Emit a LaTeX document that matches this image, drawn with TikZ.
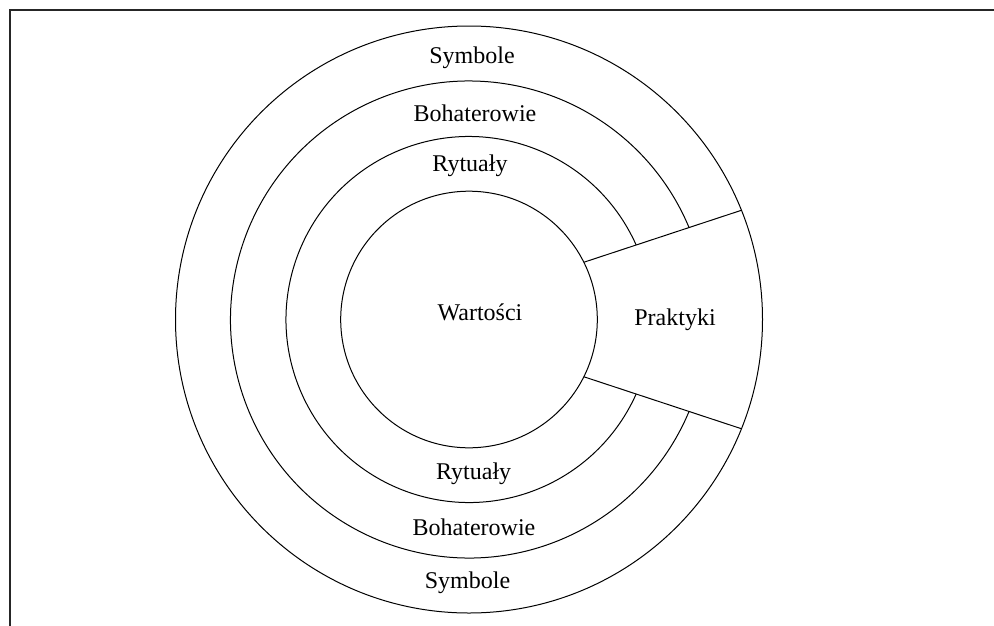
\documentclass[tikz,border=0pt]{standalone}
\usepackage{fontspec}
\setmainfont{Liberation Serif}
\begin{document}
\begin{tikzpicture}[x=1pt,y=1pt,
  ring/.style={line width=1pt, draw=black},
  frameline/.style={line width=1.8pt, draw=black!85},
  lbl/.style={font=\fontsize{24}{28}\selectfont, anchor=base, inner sep=0pt}]
\useasboundingbox (0,0) rectangle (994,-625);
\coordinate (c) at (469,-319.5);
\coordinate (tl) at (10,-10);
\coordinate (bl) at (10,-626);
\coordinate (tr) at (995,-10);
\draw[frameline] (bl) -- (tl) -- (tr);
% full circles
\draw[ring] (c) circle[radius=293.5pt];
\draw[ring] (c) circle[radius=128.3pt];
% interrupted rings
\draw[ring] (c) ++(22.66:238.5pt) arc[start angle=22.66, end angle=337.34, radius=238.5pt];
\draw[ring] (c) ++(24.0:183pt) arc[start angle=24.0, end angle=336.0, radius=183pt];
% Praktyki wedge borders
\path (c) ++(26.5:128.3pt) coordinate (ui);
\path (c) ++(21.85:293.5pt) coordinate (uo);
\path (c) ++(-26.5:128.3pt) coordinate (li);
\path (c) ++(-21.85:293.5pt) coordinate (lo);
\draw[ring] (ui) -- (uo);
\draw[ring] (li) -- (lo);
% labels
\node[lbl] (sym1) at (472,-63.3) {Symbole};
\node[lbl] (boh1) at (475,-121) {Bohaterowie};
\node[lbl] (ryt1) at (470,-171.7) {Rytuały};
\node[lbl] (war) at (480,-320.7) {Wartości};
\node[lbl] (pra) at (675,-325) {Praktyki};
\node[lbl] (ryt2) at (473.7,-479.3) {Rytuały};
\node[lbl] (boh2) at (474,-535) {Bohaterowie};
\node[lbl] (sym2) at (467.5,-588.3) {Symbole};
\end{tikzpicture}
\end{document}
